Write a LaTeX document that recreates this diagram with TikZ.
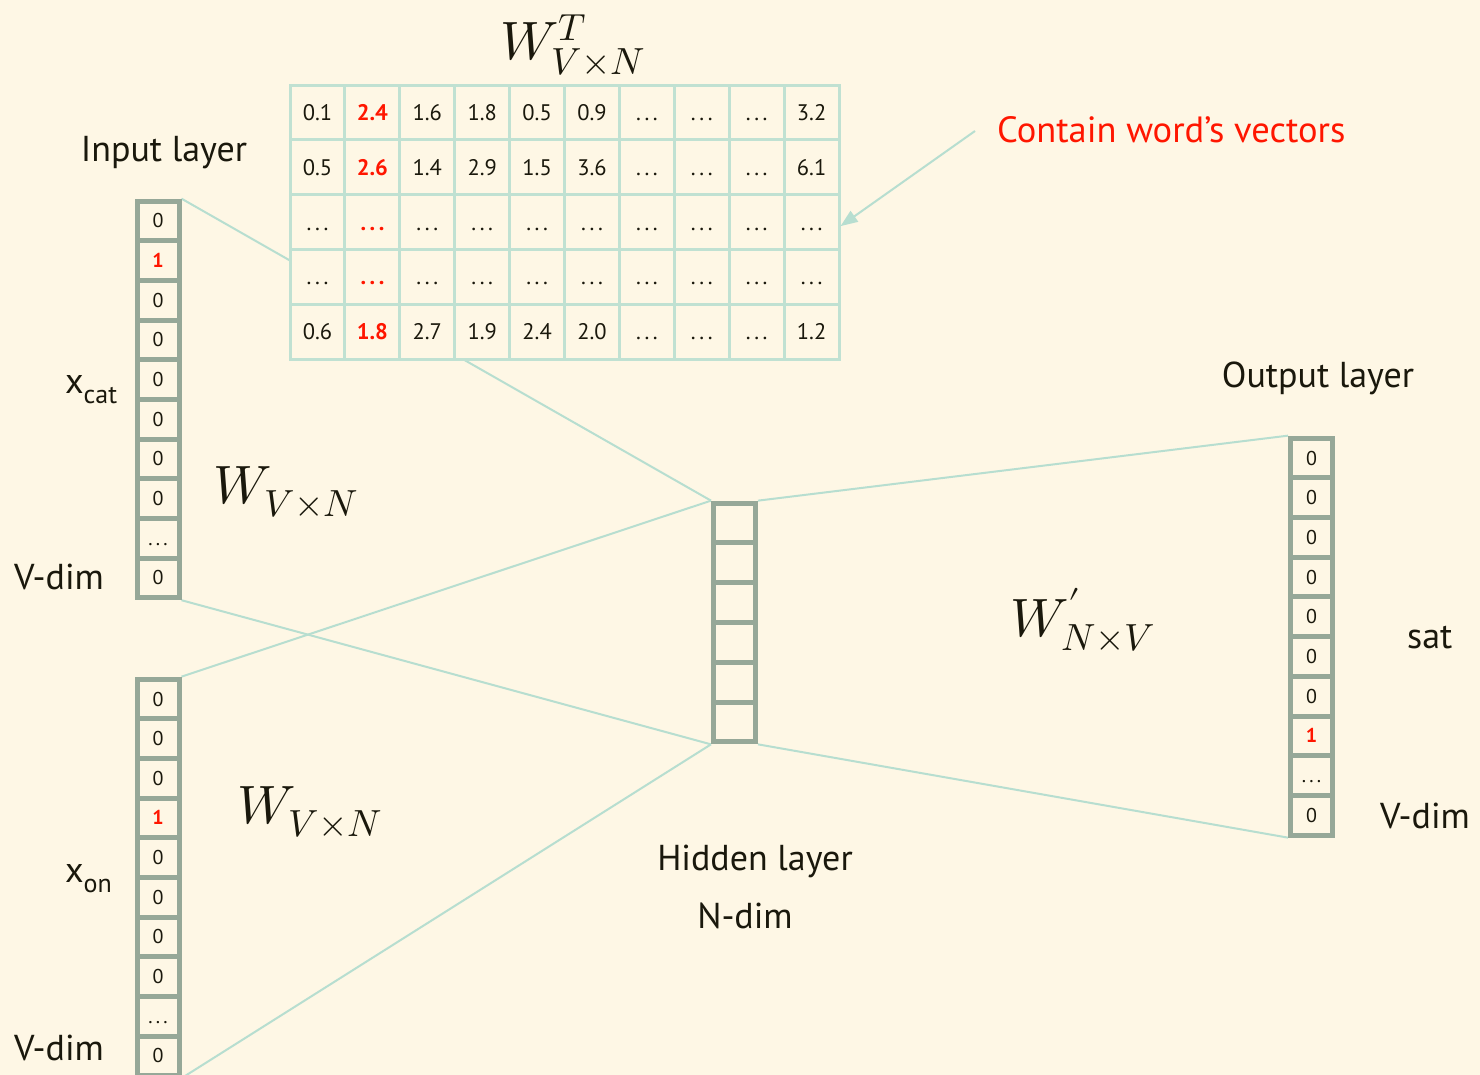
\documentclass[tikz,border=0pt]{standalone}
\usepackage{fontspec}
\usepackage{unicode-math}
\setmainfont{PT Sans}
\setmathfont{Latin Modern Math}
\usetikzlibrary{arrows.meta}
\definecolor{paper}{RGB}{254,247,229}
\definecolor{cellgray}{RGB}{150,168,152}
\definecolor{wirec}{RGB}{183,222,208}
\definecolor{gridc}{RGB}{192,225,210}
\definecolor{hotred}{RGB}{255,22,0}
\definecolor{ink}{RGB}{26,24,12}
\newcommand\redval[1]{\textcolor{hotred}{\bfseries #1}}
\newcommand\dd{.\kern0.16em.\kern0.16em.}
\pgfdeclarelayer{paperlayer}
\pgfdeclarelayer{wires}
\pgfsetlayers{paperlayer,wires,main}
\begin{document}
\begin{tikzpicture}[x=1pt,y=-1pt,
  vcell/.style={draw=cellgray,line width=5pt,minimum width=42pt,minimum height=39.7pt,
    inner sep=0pt,text=ink,text height=14pt,text depth=0pt,font=\fontsize{20}{22}\selectfont},
  mcell/.style={draw=gridc,line width=3pt,fill=paper,minimum width=54.9pt,minimum height=54.8pt,
    inner sep=0pt,text=ink,text height=16pt,text depth=0pt,font=\fontsize{22.5}{24}\selectfont},
  wire/.style={draw=wirec,line width=2pt},
  lbl/.style={inner sep=0pt,text=ink,font=\fontsize{36}{40}\selectfont},
  mlbl/.style={inner sep=0pt,text=ink,font=\fontsize{54}{60}\selectfont}]
\begin{pgfonlayer}{paperlayer}
  \fill[paper] (0,0) rectangle (1480,1075);
\end{pgfonlayer}
\useasboundingbox (0,0) rectangle (1480,1075);

% input vector x_cat
\foreach \v [count=\i from 0] in {0,\redval{1},0,0,0,0,0,0,\dd,0}
  \node[vcell] (cat\i) at (158,221+39.65*\i) {\v};
% input vector x_on
\foreach \v [count=\i from 0] in {0,0,0,\redval{1},0,0,0,0,\dd,0}
  \node[vcell] (on\i) at (158,699+39.65*\i) {\v};
% hidden layer
\foreach \i in {0,...,5}
  \node[vcell] (h\i) at (734.5,523+39.8*\i) {};
% output vector
\foreach \v [count=\i from 0] in {0,0,0,0,0,0,0,\redval{1},\dd,0}
  \node[vcell] (out\i) at (1311.5,458+39.7*\i) {\v};

% connections between layers
\begin{pgfonlayer}{wires}
  \draw[wire] (cat0.north east) -- (h0.north west);
  \draw[wire] (cat9.south east) -- (h5.south west);
  \draw[wire] (on0.north east) -- (h0.north west);
  \draw[wire] (on9.south east) -- (h5.south west);
  \draw[wire] (h0.north east) -- (out0.north west);
  \draw[wire] (h5.south east) -- (out9.south west);
\end{pgfonlayer}

% weight matrix W^T
\foreach \row [count=\r] in {
  {0.1,\redval{2.4},1.6,1.8,0.5,0.9,\dd,\dd,\dd,3.2},
  {0.5,\redval{2.6},1.4,2.9,1.5,3.6,\dd,\dd,\dd,6.1},
  {\dd,\redval{\dd},\dd,\dd,\dd,\dd,\dd,\dd,\dd,\dd},
  {\dd,\redval{\dd},\dd,\dd,\dd,\dd,\dd,\dd,\dd,\dd},
  {0.6,\redval{1.8},2.7,1.9,2.4,2.0,\dd,\dd,\dd,1.2}}
  \foreach \v [count=\c] in \row
    \node[mcell] (m-\r-\c) at (317.5+54.9*\c-54.9,112.5+54.8*\r-54.8) {\v};

% pointer to the matrix
\coordinate (ptr) at (975,131);
\draw[wire,-{Triangle[length=17pt,width=13pt]}] (ptr) -- ([yshift=-4pt]m-3-10.east);
\node[inner sep=0pt,anchor=base west,text=hotred,font=\fontsize{36.5}{40}\selectfont]
  (note) at (997,143) {Contain word’s vectors};

% labels
\node[mlbl,anchor=base] (wt) at (573,60) {$W^{T}_{V\times N}$};
\node[lbl,anchor=base] (inl) at (164,162) {Input layer};
\node[lbl,anchor=base west] (xcat) at (65,393) {x\raisebox{-0.3em}{\fontsize{26}{28}\selectfont cat}};
\node[lbl,anchor=base west] (vd1) at (14,589) {V-dim};
\node[mlbl,anchor=base west] (w1) at (213,503) {$W_{V\times N}$};
\node[lbl,anchor=base west] (xon) at (65,882) {x\raisebox{-0.3em}{\fontsize{26}{28}\selectfont on}};
\node[lbl,anchor=base west] (vd2) at (14,1060) {V-dim};
\node[mlbl,anchor=base west] (w2) at (237,823) {$W_{V\times N}$};
\node[lbl,anchor=base] (hid) at (755,870) {Hidden layer};
\node[lbl,anchor=base] (nd) at (745,928) {N-dim};
\node[lbl,anchor=base] (outl) at (1318,387) {Output layer};
\node[lbl,anchor=base west] (sat) at (1407,648) {sat};
\node[lbl,anchor=base west] (vd3) at (1380,828) {V-dim};
\node[mlbl,anchor=base west] (w3) at (1010,636) {$W^{\prime}_{N\times V}$};
\end{tikzpicture}
\end{document}
